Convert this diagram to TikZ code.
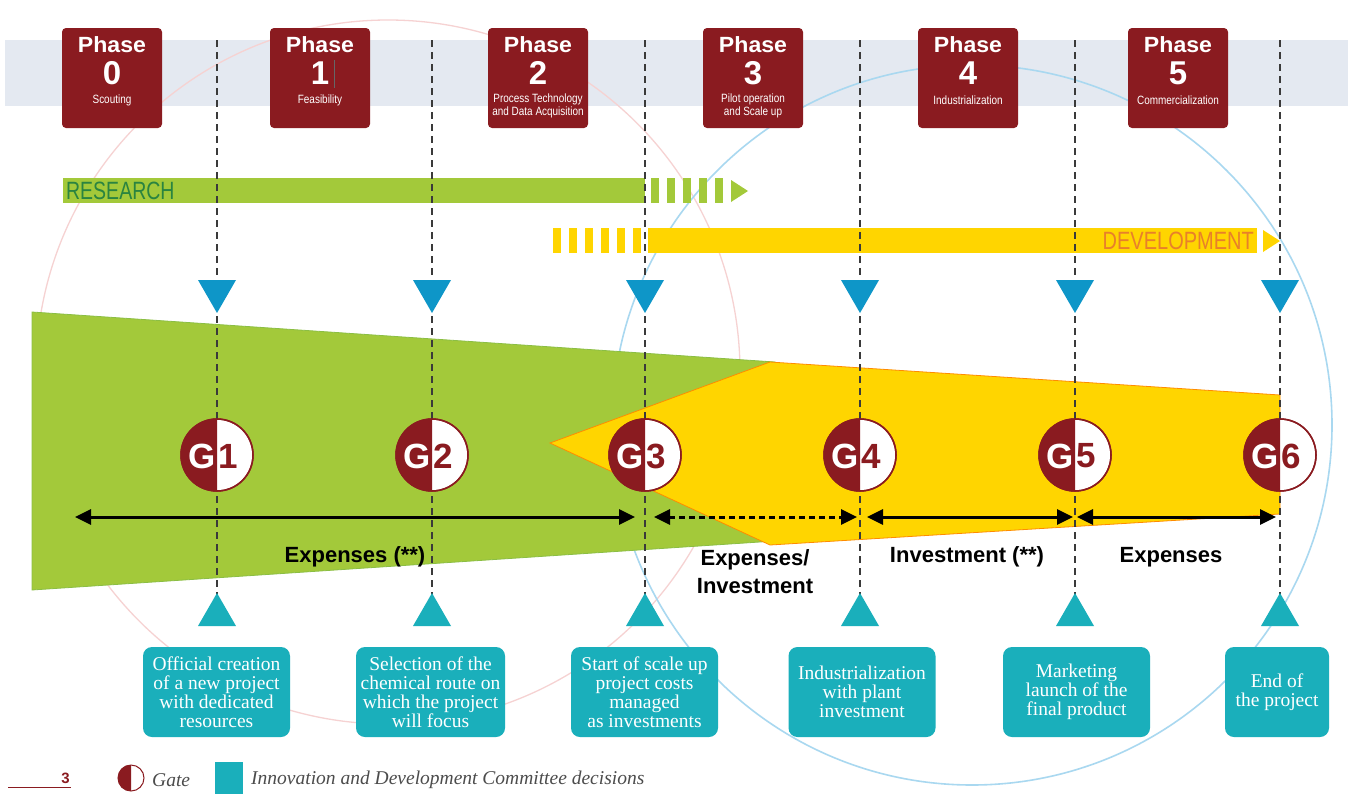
\documentclass[tikz,border=0pt]{standalone}
\usepackage{fontspec}
\setmainfont{Liberation Serif}
\setsansfont{Liberation Sans}
\usetikzlibrary{arrows.meta,shapes.geometric}
\definecolor{phred}{HTML}{8A1B20}
\definecolor{band}{HTML}{E4E9F1}
\definecolor{resgreen}{HTML}{A3C93A}
\definecolor{resdark}{HTML}{2A8440}
\definecolor{devyel}{HTML}{FFD500}
\definecolor{devorange}{HTML}{E8802A}
\definecolor{tblue}{HTML}{0E96C8}
\definecolor{tealc}{HTML}{1AAFBB}
\definecolor{pinkc}{HTML}{F6D2D2}
\definecolor{bluec}{HTML}{A9D8F0}
\definecolor{dashc}{HTML}{3A3A3A}
\tikzset{
  phbox/.style={rectangle, rounded corners=4pt, fill=phred, minimum width=100pt, minimum height=100pt, inner sep=0pt},
  phtitle/.style={text=white, font=\sffamily\bfseries\fontsize{22}{24}\selectfont, inner sep=0pt, xscale=1.05},
  phnum/.style={text=white, font=\sffamily\bfseries\fontsize{33}{35}\selectfont, inner sep=0pt},
  phsub/.style={text=white, font=\sffamily\fontsize{12}{13}\selectfont, align=center, inner sep=0pt, xscale=0.83},
  dashline/.style={dashc, line width=1.4pt, dash pattern=on 7pt off 5pt},
  gatecirc/.style={circle, draw=phred, line width=1.5pt, fill=white, minimum size=72pt, inner sep=0pt},
  gletter/.style={font=\sffamily\bfseries\fontsize{35}{37}\selectfont, inner sep=0pt},
  arr/.style={line width=3pt, {Triangle[length=16pt,width=15pt]}-{Triangle[length=16pt,width=15pt]}},
  dotarr/.style={line width=3pt, dash pattern=on 6pt off 4pt, {Triangle[length=16pt,width=15pt]}-{Triangle[length=16pt,width=15pt]}},
  lbl/.style={font=\sffamily\bfseries\fontsize{22}{28}\selectfont, align=center, inner sep=0pt},
  decbox/.style={rectangle, rounded corners=9pt, fill=tealc, text=white, minimum height=90pt, inner sep=0pt, align=center, font=\fontsize{19.5}{19}\selectfont},
  legtext/.style={text=black!70, font=\itshape\fontsize{19.5}{21}\selectfont, anchor=west, inner sep=0pt}
}
\begin{document}
\begin{tikzpicture}[x=1pt,y=-1pt]
\useasboundingbox (0,0) rectangle (1348,798);
\fill[white] (0,0) rectangle (1348,798);
% grey band
\fill[band] (5,40) rectangle (1348,106);
% background circles
\draw[pinkc, line width=1.3pt] (388,372) circle (352);
\draw[bluec, line width=1.6pt] (972,425) circle (360);
% green and yellow volumes
\fill[resgreen, draw=resgreen!85!teal, line width=0.8pt] (32,312) -- (775,362) -- (775,541) -- (32,590) -- cycle;
\fill[devyel, draw=orange!90!yellow, line width=0.8pt] (550,443) -- (770,362) -- (1280,395) -- (1280,514) -- (770,545) -- cycle;
% research bar
\fill[resgreen] (63,178) rectangle (645,203);
\foreach \s in {651,667,683,699,715} \fill[resgreen] (\s,178) rectangle (\s+8,203);
\fill[resgreen] (731,180) -- (748,191) -- (731,202) -- cycle;
\node[anchor=west, text=resdark, font=\fontsize{25}{27}\selectfont\sffamily, xscale=0.78, inner sep=0pt] (research) at (66,191) {RESEARCH};
% development bar
\foreach \s in {553,569,585,601,617,633} \fill[devyel] (\s,228) rectangle (\s+8,253);
\fill[devyel] (648,228) rectangle (1257,253);
\fill[devyel] (1263,230) -- (1280,241) -- (1263,252) -- cycle;
\node[anchor=east, text=devorange, font=\fontsize{25}{27}\selectfont\sffamily, xscale=0.8, inner sep=0pt] (development) at (1254,241) {DEVELOPMENT};
% dashed lines
\foreach \i/\x in {1/217,2/432,3/645,4/860,5/1075,6/1280} {
  \coordinate (top\i) at (\x,40);
  \coordinate (bot\i) at (\x,596);
  \draw[dashline] (top\i) -- (bot\i);
}
% phase boxes
\foreach \n/\x/\sub/\sy in {0/112/Scouting/100, 1/320/Feasibility/100, 2/538/{Process Technology\\and Data Acquisition}/106, 3/753/{Pilot operation\\and Scale up}/106, 4/968/Industrialization/100, 5/1178/Commercialization/100} {
  \node[phbox] (p\n) at (\x,78) {};
  \node[phtitle] (pt\n) at (\x,45) {Phase};
  \node[phnum] (pn\n) at (\x,73) {\n};
  \node[phsub] (ps\n) at (\x,\sy) {\sub};
}
\draw[black!60, line width=0.8pt] (334,60) -- (334,88);
% triangles and gates
\foreach \i/\x in {1/217,2/432,3/645,4/860,5/1075,6/1280} {
  \fill[tblue] (\x-19,280) -- (\x+19,280) -- (\x,313) -- cycle;
  \fill[tealc] (\x-19,626) -- (\x+19,626) -- (\x,593) -- cycle;
  \node[gatecirc] (g\i) at (\x,455) {};
  \begin{scope}
    \clip (\x-40,415) rectangle (\x,495);
    \fill[phred] (\x,455) circle (36);
  \end{scope}
  \draw[phred, line width=1.5pt] (\x,455) circle (36);
  \node[gletter, text=white, anchor=east] (gG\i) at (\x-1,456) {G};
  \node[gletter, text=phred, anchor=west] (gN\i) at (\x+1.5,456) {\i};
}
% span arrows
\coordinate (a1) at (75,517);
\coordinate (a2) at (635,517);
\coordinate (a3) at (654,517);
\coordinate (a4) at (857,517);
\coordinate (a5) at (867,517);
\coordinate (a6) at (1073,517);
\coordinate (a7) at (1077,517);
\coordinate (a8) at (1276,517);
\draw[arr] (a1) -- (a2);
\draw[dotarr] (a3) -- (a4);
\draw[arr] (a5) -- (a6);
\draw[arr] (a7) -- (a8);
\node[lbl] (l1) at (355,557) {Expenses (**)};
\node[lbl] (l2) at (755,572) {Expenses/\\Investment};
\node[lbl] (l3) at (967,557) {Investment (**)};
\node[lbl] (l4) at (1171,557) {Expenses};
% decision boxes
\node[decbox, minimum width=147pt] (d1) at (216.5,692) {Official creation\\of a new project\\with dedicated\\resources};
\node[decbox, minimum width=149pt] (d2) at (430.5,692) {Selection of the\\chemical route on\\which the project\\will focus};
\node[decbox, minimum width=147pt] (d3) at (644.5,692) {Start of scale up\\project costs\\managed\\as investments};
\node[decbox, minimum width=147pt] (d4) at (862,692) {Industrialization\\with plant\\investment};
\node[decbox, minimum width=147pt] (d5) at (1076.5,692) {Marketing\\launch of the\\final product};
\node[decbox, minimum width=104pt] (d6) at (1277,692) {End of\\the project};
% legend
\draw[phred, line width=1pt] (8,787) -- (71,787);
\node[text=phred, font=\sffamily\bfseries\fontsize{15}{17}\selectfont, anchor=south east, inner sep=0pt] (pg) at (70,784) {3};
\node[circle, draw=phred, line width=1pt, fill=white, minimum size=26pt, inner sep=0pt] (legg) at (131,778) {};
\begin{scope}
  \clip (115,760) rectangle (131,796);
  \fill[phred] (131,778) circle (13);
\end{scope}
\node[legtext] (leggate) at (152,780) {Gate};
\node[rectangle, fill=tealc, minimum width=28pt, minimum height=32pt, inner sep=0pt] (legbox) at (229,778) {};
\node[legtext] (legdec) at (251,780) {Innovation and Development Committee decisions};
\end{tikzpicture}
\end{document}
